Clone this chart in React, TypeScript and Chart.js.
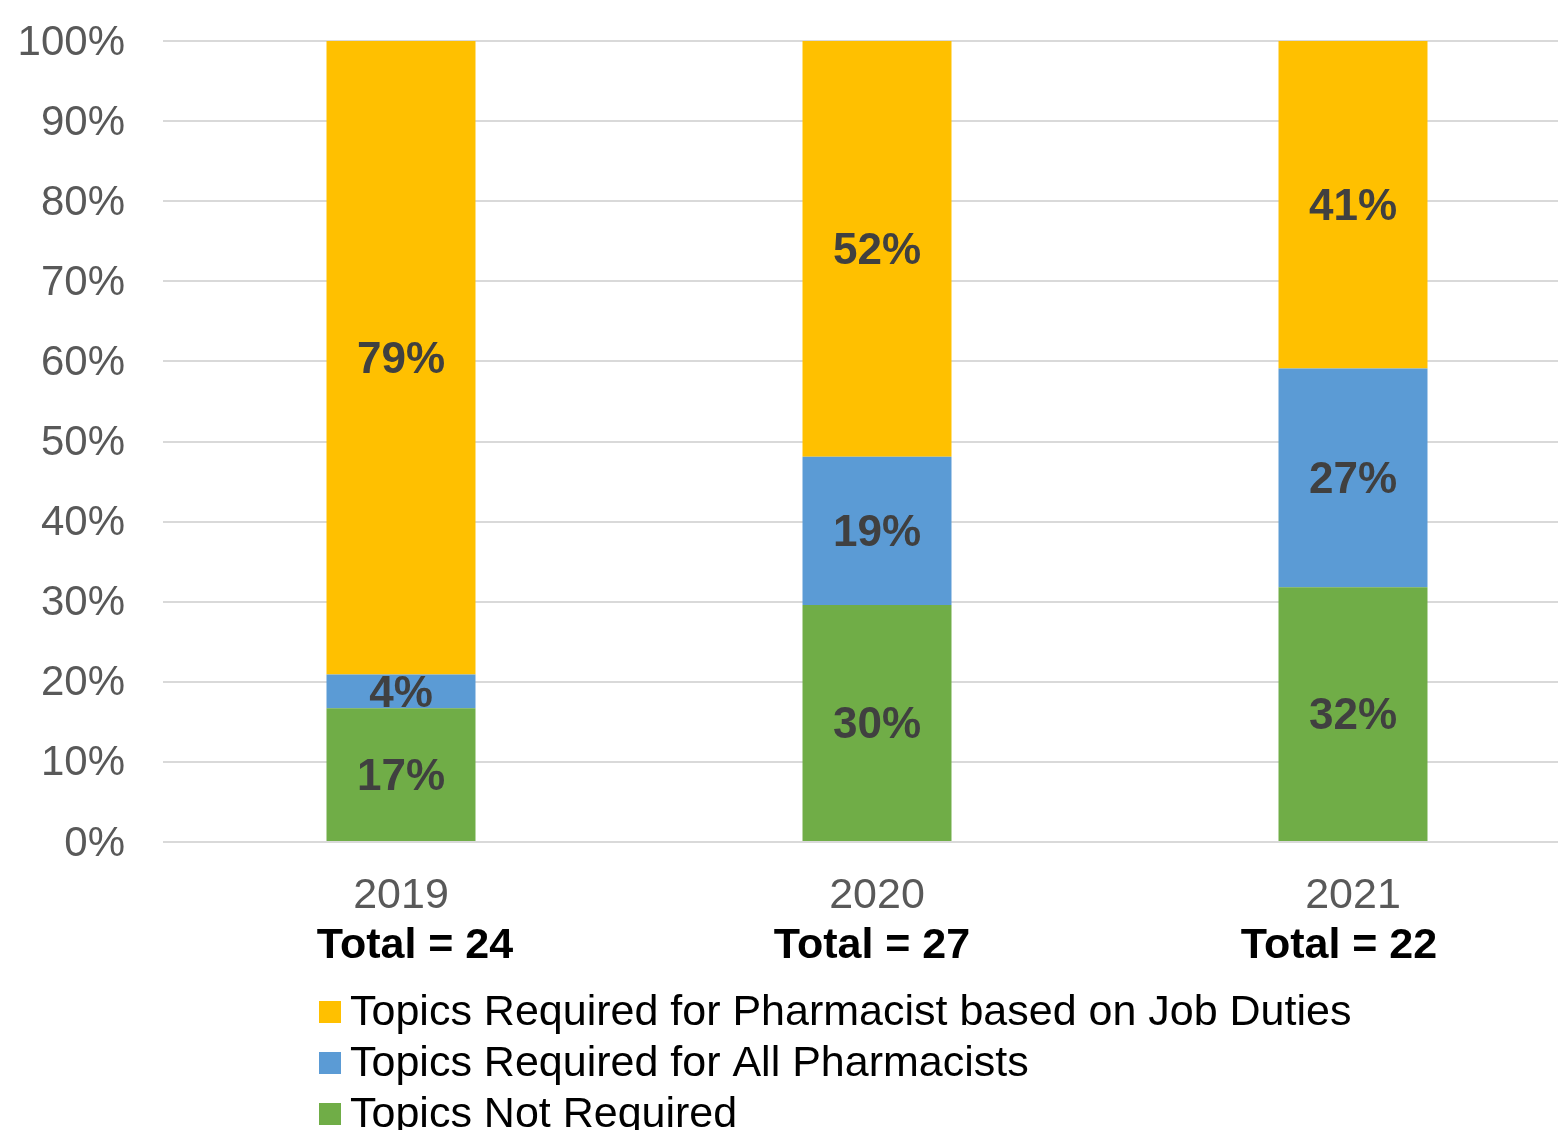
import React, { useEffect, useRef } from 'react';
import { Chart, registerables } from 'chart.js';

Chart.register(...registerables);

const categories = ['2019', '2020', '2021'];
const totals = [24, 27, 22];
const seriesNames = [
  'Topics Not Required',
  'Topics Required for All Pharmacists',
  'Topics Required for Pharmacist based on Job Duties',
];
const notRequired = [16.7, 29.6, 31.8];
const requiredAll = [4.2, 18.5, 27.3];
const requiredJob = [79.1, 51.9, 40.9];
const seriesColors = ['#70AD47', '#5B9BD5', '#FFC000'];

const FONT = '"Liberation Sans", Arial, Helvetica, sans-serif';
const totalOffsets = [14, -5, -14];

const overlayPlugin = {
  id: 'overlay',
  afterDatasetsDraw(chart: any) {
    const ctx = chart.ctx;
    ctx.save();
    ctx.font = `bold 44px ${FONT}`;
    ctx.fillStyle = '#404040';
    ctx.textAlign = 'center';
    ctx.textBaseline = 'middle';
    chart.data.datasets.forEach((ds: any, di: number) => {
      const meta = chart.getDatasetMeta(di);
      meta.data.forEach((el: any, i: number) => {
        const v = ds.data[i] as number;
        const p = el.getCenterPoint();
        ctx.fillText(Math.round(v) + '%', p.x, p.y + 3);
      });
    });
    ctx.restore();
  },
  afterDraw(chart: any) {
    const ctx = chart.ctx;
    const area = chart.chartArea;
    const xs = chart.scales.x;
    ctx.save();
    ctx.font = `bold 43px ${FONT}`;
    ctx.fillStyle = '#000000';
    ctx.textAlign = 'center';
    ctx.textBaseline = 'alphabetic';
    totals.forEach((t, i) => {
      ctx.fillText('Total = ' + t, xs.getPixelForValue(i) + totalOffsets[i], area.bottom + 116);
    });
    // legend (top to bottom: reverse of stacking order)
    ctx.font = `43px ${FONT}`;
    ctx.textAlign = 'left';
    const lx = area.left + 156;
    const order = [2, 1, 0];
    order.forEach((di, row) => {
      const base = area.bottom + 183 + row * 51;
      ctx.fillStyle = seriesColors[di];
      ctx.fillRect(lx, base - 24, 22, 22);
      ctx.fillStyle = '#000000';
      ctx.fillText(seriesNames[di], lx + 31, base);
    });
    ctx.restore();
  },
};

export default function App() {
  const ref = useRef<HTMLCanvasElement | null>(null);

  useEffect(() => {
    if (!ref.current) return;
    const chart = new Chart(ref.current, {
      type: 'bar',
      data: {
        labels: categories,
        datasets: [
          { label: seriesNames[0], data: notRequired, backgroundColor: seriesColors[0] },
          { label: seriesNames[1], data: requiredAll, backgroundColor: seriesColors[1] },
          { label: seriesNames[2], data: requiredJob, backgroundColor: seriesColors[2] },
        ],
      },
      options: {
        animation: false,
        responsive: false,
        maintainAspectRatio: false,
        layout: { padding: { left: 0, right: 9, top: 41, bottom: 0 } },
        datasets: {
          bar: { categoryPercentage: 1, barPercentage: 0.313 },
        },
        plugins: {
          legend: { display: false },
          tooltip: { enabled: false },
          title: { display: false },
        },
        scales: {
          x: {
            stacked: true,
            grid: { display: false },
            border: { display: false },
            ticks: {
              color: '#595959',
              font: { family: FONT, size: 43 },
              padding: 20,
              maxRotation: 0,
            },
            afterFit: (s: any) => {
              s.height = 288;
            },
          },
          y: {
            stacked: true,
            min: 0,
            max: 100,
            border: { display: false },
            grid: { color: '#D9D9D9', lineWidth: 2, drawTicks: false },
            ticks: {
              stepSize: 10,
              color: '#595959',
              font: { family: FONT, size: 42 },
              padding: 38,
              labelOffset: 2,
              callback: (v: any) => v + '%',
            },
            afterFit: (s: any) => {
              s.width = 163;
              s.paddingTop = 0;
              s.paddingBottom = 0;
            },
          },
        },
      },
      plugins: [overlayPlugin],
    });
    return () => chart.destroy();
  }, []);

  return (
    <div
      style={{
        position: 'fixed',
        left: 0,
        top: 0,
        width: '100vw',
        height: '100vh',
        overflow: 'hidden',
        background: '#ffffff',
      }}
    >
      <canvas ref={ref} width={1600} height={1130} style={{ width: 1600, height: 1130, display: 'block' }} />
    </div>
  );
}
